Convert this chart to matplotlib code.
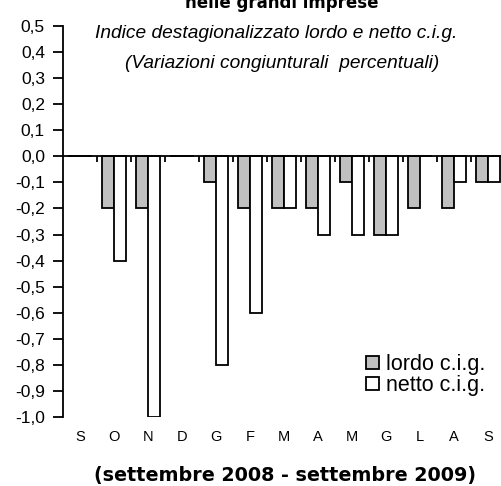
import matplotlib
matplotlib.use("Agg")
import matplotlib.pyplot as plt
import matplotlib.transforms as mtransforms
from matplotlib.patches import Patch
import numpy as np

plt.rcParams['font.family'] = ['Liberation Sans', 'DejaVu Sans']

months = ["S", "O", "N", "D", "G", "F", "M", "A", "M", "G", "L", "A", "S"]
lordo = [0.0, -0.2, -0.2, 0.0, -0.1, -0.2, -0.2, -0.2, -0.1, -0.3, -0.2, -0.2, -0.1]
netto = [0.0, -0.4, -1.0, 0.0, -0.8, -0.6, -0.2, -0.3, -0.3, -0.3, 0.0, -0.1, -0.1]
yticks = [0.5, 0.4, 0.3, 0.2, 0.1, 0.0, -0.1, -0.2, -0.3, -0.4, -0.5, -0.6, -0.7, -0.8, -0.9, -1.0]

fig = plt.figure(figsize=(5.02, 4.86), dpi=100)
ax = fig.add_axes([63/502, 69/486, 1 - 63/502, (460-69)/486])

x = np.arange(len(months))
w = 0.34
ax.bar(x - w/2, lordo, width=w, color="#C0C0C0", edgecolor="black", linewidth=1.3, label="lordo c.i.g.")
ax.bar(x + w/2, netto, width=w, color="white", edgecolor="black", linewidth=1.3, label="netto c.i.g.")

ax.set_ylim(-1.0, 0.5)
ax.set_xlim(-0.5, -0.5 + 439/34)
ax.spines['top'].set_visible(False)
ax.spines['right'].set_visible(False)
ax.spines['bottom'].set_position(('data', 0))
ax.spines['bottom'].set_linewidth(1.3)
ax.spines['left'].set_linewidth(1.3)

ax.set_yticks(yticks)
ax.set_yticklabels([f"{v:.1f}".replace(".", ",") for v in yticks], fontsize=12.5)
ax.tick_params(axis='y', direction='out', length=7, width=1.3, pad=6)
ax.set_xticks(x[:-1] + 0.5)
ax.set_xticklabels([])
ax.tick_params(axis='x', direction='out', length=4, width=1.3)

trans = mtransforms.blended_transform_factory(ax.transData, fig.transFigure)
for xi, m in zip(x, months):
    ax.text(xi, 1 - 437/486, m, transform=trans, ha='center', va='center', fontsize=10.5)

fig.text(282/502, 1 - 3.5/486, "nelle grandi imprese", ha='center', va='center', fontsize=12,
         fontweight='bold', family=['DejaVu Sans'])
fig.text(276/502, 1 - 33/486, "Indice destagionalizzato lordo e netto c.i.g.", ha='center', va='center',
         fontsize=13.8, style='italic')
fig.text(282/502, 1 - 63/486, "(Variazioni congiunturali  percentuali)", ha='center', va='center',
         fontsize=13.8, style='italic')
fig.text(285/502, 1 - 475/486, "(settembre 2008 - settembre 2009)", ha='center', va='center', fontsize=13.8,
         fontweight='bold', family=['DejaVu Sans'])

handles = [Patch(facecolor="#C0C0C0", edgecolor="black", linewidth=1.3, label="lordo c.i.g."),
           Patch(facecolor="white", edgecolor="black", linewidth=1.3, label="netto c.i.g.")]
ax.legend(handles=handles, loc='center left', bbox_to_anchor=(366/502, 1 - 375/486), bbox_transform=fig.transFigure,
          frameon=False, fontsize=15.5, handlelength=0.6, handleheight=0.6, handletextpad=0.35,
          labelspacing=0.0, borderpad=0, borderaxespad=0)

fig.savefig("out.png", dpi=100)
